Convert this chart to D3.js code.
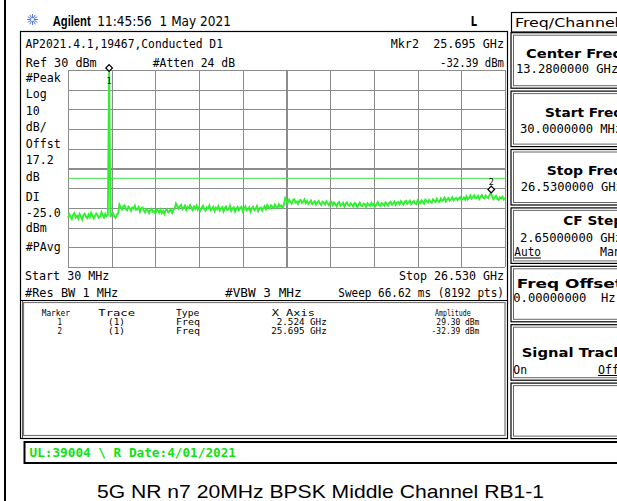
<!DOCTYPE html>
<html><head><meta charset="utf-8">
<script src="https://cdn.jsdelivr.net/npm/d3@7"></script>
<style>
html,body{margin:0;padding:0;background:#fff;}
svg{display:block;}
text{white-space:pre;}
</style></head><body>
<svg id="chart" width="617" height="501"></svg>
<script>
// ---- Sweep / display settings ----
const sweepStartGHz = 0.03;
const sweepStopGHz = 26.53;
const refLevelDbm = 30;
const dbPerDiv = 10;
const gridDivisions = 10;
const displayLineDbm = -25.0;

// ---- Trace 1 (peak detector), dBm at evenly spaced sweep points ----
const traceDbm = [
  -45.1, -43.2, -44.6, -45.7, -43.5, -42.6, -44.9, -44.0, -45.4, -43.1, -44.2, -45.9, -43.8, -42.9, -44.5, -45.2,
  -43.4, -44.8, -42.5, -43.9, -45.3, -44.1, -42.8, -43.6, -45.0, -44.4, -42.2, -43.7, -44.9, -43.0, -44.3, -43.5,
  29.30,
  -44.6, -43.1, -42.7, -44.3, -45.0, -43.4, -42.9,
  -38.3, -39.6, -40.8, -39.1, -38.7, -40.5, -41.2, -39.4, -40.0, -41.5, -39.8, -40.3, -38.9, -41.0, -40.7, -39.5,
  -41.9, -40.2, -39.8, -41.4, -42.3, -40.6, -41.1, -42.6, -40.9, -40.4, -42.0, -41.6, -42.9, -40.8, -41.3, -42.4,
  -40.9, -42.7, -41.5, -43.0, -41.2, -40.6, -42.2, -41.8, -40.7, -42.5, -41.0, -40.4,
  -37.8,
  -38.9, -40.4, -39.2, -38.5, -40.7, -39.9, -38.8, -41.0, -39.5, -40.2, -38.6, -39.8, -41.1, -39.3, -40.5, -38.9,
  -40.8, -39.4, -41.3, -40.0, -38.9, -40.6, -41.5, -39.7, -40.3, -38.8, -41.1, -40.4, -39.5, -41.6, -39.9, -40.7,
  -39.2, -41.4, -40.5, -39.6, -41.8, -40.1, -39.3, -41.0, -40.7, -38.9, -41.5, -40.2, -39.7, -41.9, -40.4, -39.5,
  -41.2, -40.0, -39.4, -41.7, -40.6, -39.2, -41.3, -40.8, -39.7, -42.0, -40.3, -39.5, -41.1, -40.5, -39.1, -41.6,
  -40.2, -39.8, -41.4, -40.0,
  -39.0, -40.6, -38.5, -39.8, -40.3, -38.7, -39.5, -40.1, -38.3, -39.6, -40.0, -38.2, -39.4, -38.8, -39.9, -38.4,
  -35.0,
  -36.2, -37.5, -35.8, -36.9, -37.8, -36.0, -35.6, -37.2, -36.7, -38.0, -36.3, -35.9, -37.4, -36.8, -35.7, -37.6,
  -36.5, -37.9, -37.0, -36.2, -38.1, -37.3, -36.6, -38.3, -37.1, -36.4, -37.8, -38.5, -36.9, -37.4, -38.2, -36.7,
  -37.6, -38.6, -37.0, -36.8,
  -38.7, -37.3, -38.1, -39.2, -37.6, -37.0, -38.9, -38.3, -37.4, -39.4, -38.0, -37.2, -38.6, -39.0, -37.7, -38.4,
  -39.3, -37.5, -38.0, -39.6, -38.4, -37.3, -38.8, -39.1, -37.8, -38.2, -39.5, -37.6, -38.5, -39.0, -37.4, -38.7,
  -37.9, -39.1, -38.2, -37.1, -38.6, -39.0, -37.5, -38.0, -38.8, -37.2, -37.8, -38.9, -37.4, -36.9, -38.3, -37.7,
  -36.8, -38.5, -37.3, -37.0,
  -38.2, -36.6, -37.5, -38.3, -36.9, -36.4, -37.9, -37.2, -36.3, -38.0, -37.1, -36.5, -37.7, -38.1, -36.2, -37.0,
  -37.6, -36.1, -36.9, -37.8, -35.8, -36.5, -37.3, -35.9, -36.8, -37.4, -35.6, -36.3, -37.0, -35.4, -36.6, -37.1,
  -35.3, -36.5, -35.9, -34.8, -36.7, -35.6, -35.0, -36.3, -35.7, -34.6, -36.2, -35.4, -34.9, -36.0, -35.2, -34.5,
  -35.9, -35.6, -34.7, -35.8,
  -34.2, -35.6, -34.9, -33.8, -35.3, -34.5, -33.6, -35.1, -34.7, -33.9, -35.5, -34.3, -33.5, -34.8, -35.2, -33.7,
  -34.4, -35.0, -33.4,
  -32.39,
  -34.1, -35.6, -34.8, -33.9, -35.4, -35.9, -34.6, -35.2, -34.3, -35.7, -34.9
];

// ---- Markers ----
const markerIds = ["1", "2"];
const markerTraces = ["(1)", "(1)"];
const markerTypes = ["Freq", "Freq"];
const markerFreqGHz = [2.524, 25.695];
const markerAmpDbm = [29.30, -32.39];

// ---- Softkey menu ----
const menuTitle = "Freq/Channel";
const softkeyTitles = ["Center Freq", "Start Freq", "Stop Freq", "CF Step", "Freq Offset", "Signal Track", ""];
const softkeyValues = ["13.2800000 GHz", "30.0000000 MHz", "26.5300000 GHz", "2.65000000 GHz", "0.00000000  Hz", "", ""];

// ---- Annotation text ----
const headerTime = "11:45:56  1 May 2021";
const titleLine = "AP2021.4.1,19467,Conducted D1";
const leftLabels = ["#Peak", "Log", "10", "dB/", "Offst", "17.2", "dB", "DI", "-25.0", "dBm", "#PAvg"];
const statusText = "UL:39004 \\ R Date:4/01/2021";
const caption = "5G NR n7 20MHz BPSK Middle Channel RB1-1";

const MONO = "'DejaVu Sans Mono', 'Liberation Mono', monospace";
const SANS = "'DejaVu Sans', 'Liberation Sans', sans-serif";
const ARIAL = "'Liberation Sans', Arial, sans-serif";
const GREEN = "#2ff02f";

const svg = d3.select("#chart");

function T(parent, str, x0, x1, yb, size, opts = {}) {
  const t = parent.append("text")
    .attr("x", x0).attr("y", yb)
    .attr("font-family", opts.family || MONO)
    .attr("font-size", size)
    .attr("font-weight", opts.weight || "normal")
    .attr("fill", opts.fill || "#000")
    .text(str);
  if (x1 != null) t.attr("textLength", x1 - x0).attr("lengthAdjust", "spacingAndGlyphs");
  return t;
}

// page frame edge
svg.append("line").attr("x1", 5).attr("x2", 5).attr("y1", 0).attr("y2", 501)
  .attr("stroke", "#000").attr("stroke-width", 2);

// ---- header ----
const icon = svg.append("g").attr("transform", "translate(32.5,19.5)");
d3.range(12).forEach(k => {
  const a = k * Math.PI / 6;
  icon.append("line").attr("x1", Math.cos(a) * 1.5).attr("y1", Math.sin(a) * 1.5)
    .attr("x2", Math.cos(a) * 5.5).attr("y2", Math.sin(a) * 5.5)
    .attr("stroke", "#5a78e0").attr("stroke-width", 1);
});
T(svg, "Agilent", 52.7, 90.7, 26, 14.5, { family: ARIAL, weight: "bold" });
T(svg, headerTime, 97.3, 231, 26, 14, { family: SANS });
T(svg, "L", 470.7, 477, 26, 14, { family: SANS, weight: "bold" });

// ---- screen frame ----
svg.append("rect").attr("x", 20.5).attr("y", 31.5).attr("width", 487).attr("height", 407)
  .attr("fill", "none").attr("stroke", "#000").attr("stroke-width", 1.2);
svg.append("line").attr("x1", 22.5).attr("x2", 22.5).attr("y1", 300.5).attr("y2", 438)
  .attr("stroke", "#555").attr("stroke-width", 1);
svg.append("rect").attr("x", 23.5).attr("y", 302.5).attr("width", 481.5).attr("height", 133)
  .attr("fill", "none").attr("stroke", "#777").attr("stroke-width", 1.2);
svg.append("line").attr("x1", 20.5).attr("x2", 507.5).attr("y1", 300.5).attr("y2", 300.5)
  .attr("stroke", "#000").attr("stroke-width", 1.2);

// ---- annotations around the graticule ----
T(svg, titleLine, 25.5, 223, 48.3, 12.5);
T(svg, `Mkr2  ${markerFreqGHz[1].toFixed(3)} GHz`, 390.7, 504, 48.3, 12.5);
T(svg, `${markerAmpDbm[1].toFixed(2)} dBm`, 440, 504, 67, 12.5);
T(svg, `Ref ${refLevelDbm} dBm`, 25.7, 96.7, 67, 12.5);
T(svg, "#Atten 24 dB", 152.7, 235, 67, 12.5);
const leftBase = [81.7, 98, 114.5, 131, 147.5, 164, 180.5, 201, 216.5, 232, 251];
leftLabels.forEach((s, i) => T(svg, s, 25.7, 25.7 + s.length * 7, leftBase[i], 12.5));
T(svg, "Start 30 MHz", 25, 109.3, 280, 12.5);
T(svg, "Stop 26.530 GHz", 399, 504, 280, 12.5);
T(svg, "#Res BW 1 MHz", 25, 118.3, 297, 12.5);
T(svg, "#VBW 3 MHz", 225, 301.7, 297, 12.5);
T(svg, "Sweep 66.62 ms (8192 pts)", 338.3, 504, 297, 12.5);

// ---- graticule ----
const gLeft = 68, gRight = 505, gTop = 70, gBottom = 267;
const x = d3.scaleLinear().domain([sweepStartGHz, sweepStopGHz]).range([gLeft, gRight]);
const y = d3.scaleLinear().domain([refLevelDbm - dbPerDiv * gridDivisions, refLevelDbm]).range([gBottom, gTop]);

const xTicks = d3.range(gridDivisions + 1).map(i => sweepStartGHz + i * (sweepStopGHz - sweepStartGHz) / gridDivisions);
const yTicks = d3.range(gridDivisions + 1).map(i => refLevelDbm - i * dbPerDiv);

const gx = svg.append("g").attr("transform", `translate(0,${gBottom})`)
  .call(d3.axisBottom(x).tickValues(xTicks).tickSize(-(gBottom - gTop)).tickFormat(""));
const gy = svg.append("g").attr("transform", `translate(${gLeft},0)`)
  .call(d3.axisLeft(y).tickValues(yTicks).tickSize(-(gRight - gLeft)).tickFormat(""));
[gx, gy].forEach(g => {
  g.select(".domain").remove();
  g.selectAll("line").attr("stroke", "#8c8c8c").attr("stroke-width", 1.1).attr("shape-rendering", "crispEdges");
});

// display line
svg.append("line").attr("x1", gLeft).attr("x2", gRight).attr("y1", y(displayLineDbm)).attr("y2", y(displayLineDbm))
  .attr("stroke", "#4be04b").attr("stroke-width", 1);

// trace
const step = (sweepStopGHz - sweepStartGHz) / (traceDbm.length - 1);
const line = d3.line().x((d, i) => x(sweepStartGHz + i * step)).y(d => y(d));
svg.append("path").datum(traceDbm).attr("d", line)
  .attr("fill", "none").attr("stroke", GREEN).attr("stroke-width", 1.9).attr("stroke-linejoin", "miter");

// markers
const diamond = d3.symbol().type(d3.symbolSquare).size(22);
markerIds.forEach((id, i) => {
  const mx = x(markerFreqGHz[i]), my = y(markerAmpDbm[i]);
  svg.append("path").attr("d", diamond())
    .attr("transform", `translate(${mx},${my - 3.4}) rotate(45)`)
    .attr("fill", "#fff").attr("stroke", "#000").attr("stroke-width", 1.2);
  const below = my - 12 < gTop;
  svg.append("text").attr("x", mx).attr("y", below ? my + 13 : my - 8)
    .attr("text-anchor", "middle").attr("font-family", MONO).attr("font-size", 8.5).text(id);
});

// ---- marker table ----
T(svg, "Marker", 41.7, 70, 315.5, 9);
T(svg, "Trace", 98.3, 135, 315.5, 9);
T(svg, "Type", 176, 199.3, 315.5, 9);
T(svg, "X Axis", 271.7, 315, 315.5, 9);
T(svg, "Amplitude", 435, 470.7, 315.5, 9);
const rowBase = [325, 333.5];
markerIds.forEach((id, i) => {
  const xs = `${markerFreqGHz[i].toFixed(3)} GHz`;
  const as = `${markerAmpDbm[i].toFixed(2)} dBm`;
  T(svg, id, 57.5, 62, rowBase[i], 9);
  T(svg, markerTraces[i], 108, 125, rowBase[i], 9);
  T(svg, markerTypes[i], 176, 200, rowBase[i], 9);
  T(svg, xs, 326.7 - xs.length * 5.55, 326.7, rowBase[i], 9);
  T(svg, as, 479.3 - as.length * 4.77, 479.3, rowBase[i], 9);
});

// ---- softkey menu ----
svg.append("rect").attr("x", 511.5).attr("y", 12.5).attr("width", 120).attr("height", 19.5)
  .attr("fill", "none").attr("stroke", "#000").attr("stroke-width", 1.2);
T(svg, menuTitle, 515, 619, 27.3, 13, { family: SANS });

const keyTop = d3.range(7).map(k => 32.7 + k * 58.4);
const keyH = 55.5;
keyTop.forEach(t0 => {
  svg.append("rect").attr("x", 511).attr("y", t0).attr("width", 120).attr("height", keyH)
    .attr("fill", "none").attr("stroke", "#000").attr("stroke-width", 1.2);
  svg.append("rect").attr("x", 513.5).attr("y", t0 + 2.5).attr("width", 120).attr("height", keyH - 5)
    .attr("fill", "none").attr("stroke", "#666").attr("stroke-width", 1);
});
const titleStart = [526, 545, 546.7, 563.3, 516.7, 521.7];
const titleBase = [58.3, 116.5, 175, 225, 288, 356.5];
const valueStart = [516, 520, 520.7, 520, 513.3];
const valueBase = [72.5, 133, 191, 241.7, 302];
softkeyTitles.forEach((s, k) => {
  if (!s) return;
  T(svg, s, titleStart[k], 623, titleBase[k], 13, { family: SANS, weight: "bold" });
});
softkeyValues.forEach((s, k) => {
  if (!s) return;
  T(svg, s, valueStart[k], valueStart[k] + s.length * 7.3, valueBase[k], 12);
});
T(svg, "Auto", 514.3, 541, 256, 12);
svg.append("line").attr("x1", 514.3).attr("x2", 541).attr("y1", 258).attr("y2", 258).attr("stroke", "#000");
T(svg, "Man", 600, 621, 256, 12);
T(svg, "On", 513.3, 527, 373.5, 12);
T(svg, "Off", 598, 619, 373.5, 12);
svg.append("line").attr("x1", 598).attr("x2", 619).attr("y1", 375.5).attr("y2", 375.5).attr("stroke", "#000");

// ---- status bar ----
svg.append("rect").attr("x", 24.5).attr("y", 442).attr("width", 610).attr("height", 21)
  .attr("fill", "#fff").attr("stroke", "#000").attr("stroke-width", 2);
T(svg, statusText, 29.5, 236, 457, 12, { fill: "#11e011", weight: "bold" });

// ---- caption ----
T(svg, caption, 97, 544, 497.5, 19, { family: ARIAL });
</script>
</body></html>
